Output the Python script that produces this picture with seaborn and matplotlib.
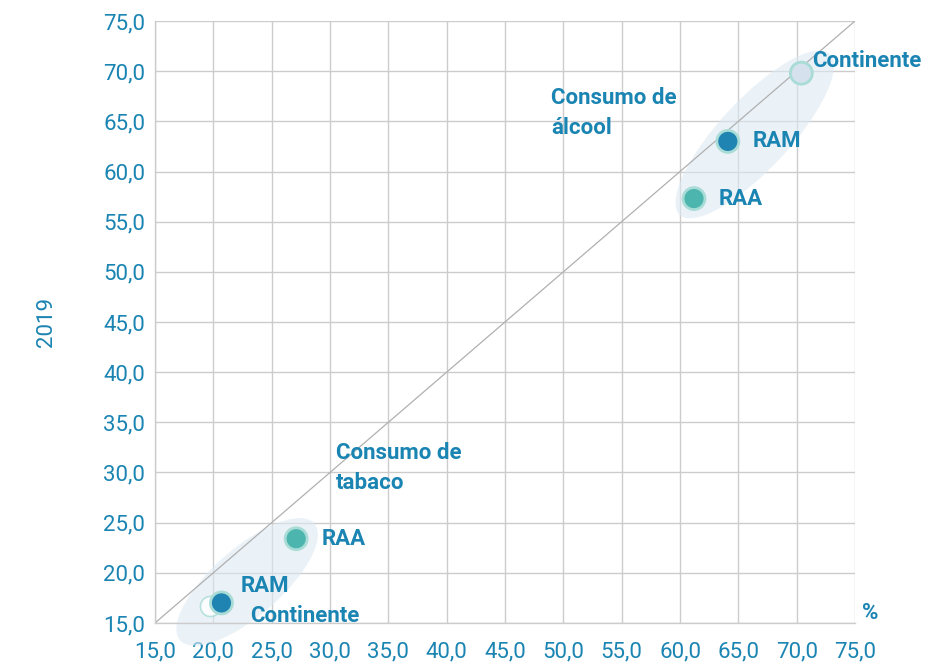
import numpy as np
import pandas as pd
import matplotlib
matplotlib.use("Agg")
import matplotlib.pyplot as plt
import matplotlib.transforms as mtransforms
from matplotlib.patches import Ellipse
from matplotlib.ticker import FuncFormatter
import seaborn as sns

# Prevalence (%) by region, 2018 (x) vs 2019 (y)
regions = ["Continente", "RAM", "RAA"]
tabaco_2018 = [19.7, 20.7, 27.1]
tabaco_2019 = [16.7, 17.0, 23.4]
alcool_2018 = [70.4, 64.1, 61.2]
alcool_2019 = [69.8, 63.0, 57.3]

axis_ticks = [15.0, 20.0, 25.0, 30.0, 35.0, 40.0, 45.0, 50.0, 55.0, 60.0, 65.0, 70.0, 75.0]

df = pd.concat([
    pd.DataFrame({"regiao": regions, "x": tabaco_2018, "y": tabaco_2019, "grupo": "tabaco"}),
    pd.DataFrame({"regiao": regions, "x": alcool_2018, "y": alcool_2019, "grupo": "alcool"}),
], ignore_index=True)

sns.set_theme(style="white")
plt.rcParams["font.family"] = ["Roboto", "DejaVu Sans"]

BLUE = "#1a84b2"
fill = {"Continente": "#d5e1ec", "RAM": "#1f84b1", "RAA": "#4cb5ad"}
edge = "#a9dcd7"
FS = 16

fig = plt.figure(figsize=(9.37, 6.65), dpi=100)
ax = fig.add_axes([0.1654, 0.0632, 0.7471, 0.9052])

ax.set_xlim(15, 75)
ax.set_ylim(15, 75)
ax.set_xticks(axis_ticks)
ax.set_yticks(axis_ticks)
fmt = FuncFormatter(lambda v, p: f"{v:.1f}".replace(".", ","))
ax.xaxis.set_major_formatter(fmt)
ax.yaxis.set_major_formatter(fmt)
ax.grid(True, color="#cccccc", linewidth=1.0, zorder=0)
ax.set_axisbelow(True)
for side in ["top", "right"]:
    ax.spines[side].set_visible(False)
for side in ["left", "bottom"]:
    ax.spines[side].set_color("#cccccc")
    ax.spines[side].set_linewidth(1.0)
ax.tick_params(axis="y", length=0, labelsize=FS, labelcolor=BLUE, pad=7)
ax.tick_params(axis="x", length=0, labelsize=FS, labelcolor=BLUE, pad=13)

# Highlight ellipses around each cluster (size in inches, centred in data coords)
def cluster_ellipse(cx, cy, w, h, ang):
    tr = fig.dpi_scale_trans + mtransforms.ScaledTranslation(cx, cy, ax.transData)
    e = Ellipse((0, 0), w, h, angle=ang, transform=tr, clip_on=False,
                facecolor="#dde9f2", edgecolor="none", alpha=0.6, zorder=1)
    ax.add_patch(e)

cluster_ellipse(22.9, 19.1, 1.78, 0.68, 41)
cluster_ellipse(66.4, 63.7, 2.20, 0.70, 47)

# Reference diagonal y = x
ax.plot([15, 75], [15, 75], color="#b0b0b0", linewidth=0.9, zorder=2)

# Hollow Continente marker for tobacco, solid markers elsewhere
tab = df[df.grupo == "tabaco"]
alc = df[df.grupo == "alcool"]
ax.scatter(tab.x[tab.regiao == "Continente"], tab.y[tab.regiao == "Continente"],
           s=210, facecolor="white", edgecolor=edge, linewidth=1.2, zorder=3, alpha=0.8)
sns.scatterplot(data=tab[tab.regiao != "Continente"], x="x", y="y", hue="regiao",
                palette=fill, s=250, edgecolor=edge, linewidth=2, legend=False,
                ax=ax, zorder=4)
sns.scatterplot(data=alc, x="x", y="y", hue="regiao", palette=fill, s=250,
                edgecolor=edge, linewidth=2, legend=False, ax=ax, zorder=4)

lab_kw = dict(color=BLUE, fontsize=FS, fontweight="bold", va="center", ha="left", zorder=5)
ax.annotate("Continente", (alcool_2018[0], alcool_2019[0]), xytext=(8, 9), textcoords="offset points", **lab_kw)
ax.annotate("RAM", (alcool_2018[1], alcool_2019[1]), xytext=(18, 0), textcoords="offset points", **lab_kw)
ax.annotate("RAA", (alcool_2018[2], alcool_2019[2]), xytext=(18, 0), textcoords="offset points", **lab_kw)
ax.annotate("RAA", (tabaco_2018[2], tabaco_2019[2]), xytext=(18, 0), textcoords="offset points", **lab_kw)
ax.annotate("RAM", (tabaco_2018[1], tabaco_2019[1]), xytext=(14, 12), textcoords="offset points", **lab_kw)
ax.annotate("Continente", (tabaco_2018[0], tabaco_2019[0]), xytext=(29, -7), textcoords="offset points", **lab_kw)

grp_kw = dict(color=BLUE, fontsize=FS, fontweight="bold", va="top", ha="left",
              linespacing=1.45, zorder=5)
ax.text(48.95, 68.4, "Consumo de\nálcool", **grp_kw)
ax.text(30.5, 33.0, "Consumo de\ntabaco", **grp_kw)

ax.set_xlabel("")
ax.set_ylabel("2019", color=BLUE, fontsize=FS)
ax.yaxis.set_label_coords(-0.14, 0.5)
fig.text(870 / 937, 1 - 613 / 665, "%", color=BLUE, fontsize=FS,
         fontweight="bold", ha="center", va="center")

fig.savefig("out.png", dpi=100)
